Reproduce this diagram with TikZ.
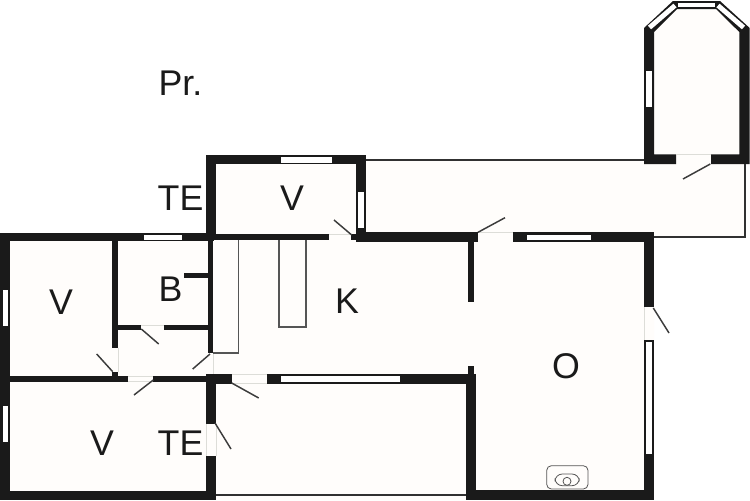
\documentclass[tikz,border=0pt]{standalone}
\usepackage{fontspec}
\setmainfont{Liberation Sans}
\definecolor{wallc}{HTML}{1A1A1A}
\definecolor{floorc}{HTML}{FFFDFB}
\definecolor{thinc}{HTML}{555555}
\definecolor{edgec}{HTML}{DDDDD8}
\tikzset{
  wall/.style={fill=wallc,draw=none},
  pane/.style={fill=white,draw=none},
  gap/.style={fill=floorc,draw=none},
  sill/.style={draw=edgec,line width=0.5pt},
  swing/.style={draw=wallc!85!white,line width=1.1pt},
  thin/.style={draw=wallc!90!white,line width=1.4pt},
  stair/.style={draw=thinc,line width=0.9pt},
  hob/.style={draw=thinc,line width=0.6pt},
  room/.style={font=\fontsize{26.8pt}{26.8pt}\selectfont,text=wallc,inner sep=0pt}
}
\begin{document}
\begin{tikzpicture}[x=0.75pt,y=-0.75pt]
\useasboundingbox (0,0) rectangle (750,500);
\fill[white] (0,0) rectangle (750,500);
% floor
\fill[floorc] (0,233) -- (206,233) -- (206,155) -- (366,155) -- (366,160) -- (644,160) -- (644,28) -- (673,1) -- (720,1) -- (749,28) -- (749,164) -- (745,164) -- (745,237) -- (654,237) -- (654,500) -- (0,500) -- cycle;
% outer left block
\fill[wall] (0,232.7) rectangle (214,240.7);
\fill[wall] (0,232.7) rectangle (10,500);
\fill[wall] (0,490.7) rectangle (216,500);
\fill[pane] (144,234.7) rectangle (181.5,239.5);
\fill[pane] (2.8,290) rectangle (8,326);
\fill[pane] (2.8,406) rectangle (8,442);
% inner walls left
\fill[wall] (112,240) rectangle (118,348);
\fill[wall] (118,325) rectangle (141.3,330);
\fill[wall] (164,325) rectangle (208,330);
\fill[wall] (184,272.7) rectangle (208,278);
\fill[wall] (207.7,240) rectangle (213.3,353);
\fill[wall] (112,372) rectangle (118,377);
\fill[wall] (10,375.7) rectangle (128,381.7);
\fill[wall] (153.3,375.7) rectangle (207,381.7);
% centre junction
\fill[wall] (206,374) rectangle (231.7,383.5);
\fill[wall] (206,380) rectangle (216,423.5);
\fill[wall] (206,456) rectangle (216,500);
\fill[wall] (266.7,374) rectangle (476,384);
\fill[pane] (281,376) rectangle (400,381.5);
% V room upper
\fill[wall] (205.7,154.7) rectangle (366,164.3);
\fill[wall] (205.7,154.7) rectangle (215.7,240);
\fill[wall] (356,154.7) rectangle (366,241.6);
\fill[pane] (281,156.7) rectangle (332.3,162.7);
\fill[pane] (358.3,192.3) rectangle (364.3,228.3);
\fill[wall] (214,234.3) rectangle (329,240);
\fill[wall] (351,234.3) rectangle (356,240);
\fill[wall] (356,232.3) rectangle (478,241.6);
\fill[wall] (512.7,232.3) rectangle (654,241.6);
\fill[pane] (527,234.5) rectangle (591,239.5);
% right room
\fill[wall] (468,240) rectangle (474,301.7);
\fill[wall] (468,366) rectangle (474,375);
\fill[wall] (466,374) rectangle (476,500);
\fill[wall] (466,490) rectangle (654,500);
\fill[wall] (644,232.3) rectangle (654,307.3);
\fill[wall] (644,340) rectangle (654,500);
\fill[pane] (646,342) rectangle (652,453.5);
% bay
\fill[wall] (644,28) -- (673,1) -- (720,1) -- (749.7,28) -- (749.7,164) -- (711,164) -- (711,154.3) -- (739.3,154.3) -- (739.3,32) -- (716,9) -- (677,9) -- (654,32) -- (654,154.3) -- (676,154.3) -- (676,164) -- (644,164) -- cycle;
\fill[pane] (646,71) rectangle (652,106.7);
\fill[pane] (678,2.7) rectangle (715,7.3);
\draw[white,line width=3.6pt] (649.5,27.5) -- (675,5.5);
\draw[white,line width=3.6pt] (743.5,27.5) -- (718,5.5);
% terrace outline
\draw[thin] (366,159.7) -- (644,159.7);
\draw[thin] (745,164) -- (745,237) -- (654,237);
\draw[thin,line width=1pt] (216,495) -- (466,495);
% gap edges
\draw[sill] (118,348) -- (118,372);
\draw[sill] (141,325) -- (164,325);
\draw[sill] (128,376) -- (153,376) (128,381.7) -- (153,381.7);
\draw[sill] (231.7,374) -- (266.7,374) (231.7,383.5) -- (266.7,383.5);
\draw[sill] (329,234.3) -- (351,234.3);
\draw[sill] (478,232.3) -- (512.7,232.3);
\draw[sill] (676,154.3) -- (711,154.3);
\draw[sill] (644,307.3) -- (644,340);
\draw[sill] (206,423.5) -- (206,456) (216,423.5) -- (216,456);
\draw[sill] (213.5,353) -- (213.5,374);
% stairs and counter
\draw[stair] (213,353) -- (238.3,353) -- (238.3,240);
\draw[stair] (279,240) -- (279,327) -- (306,327) -- (306,240);
% door swings
\draw[swing] (141.3,329) -- (158.7,344);
\draw[swing] (112.7,371.7) -- (96.7,354);
\draw[swing] (153.3,380) -- (134,395);
\draw[swing] (210,354) -- (192.7,369);
\draw[swing] (231.7,383) -- (258.7,398);
\draw[swing] (215,423) -- (231,449);
\draw[swing] (351.7,235) -- (334,220);
\draw[swing] (478,232.3) -- (505,217.7);
\draw[swing] (710.3,164) -- (683,179);
\draw[swing] (653.3,308) -- (669,333);
% stove
\draw[hob,rounded corners=3.5pt] (546.7,465.7) rectangle (588,489);
\draw[hob,rounded corners=5.5pt] (555,474) rectangle (579.3,485.7);
\begin{scope}
\clip (555,474) rectangle (579.3,485.7);
\draw[hob] (567,481.3) circle[radius=4];
\end{scope}
% labels
\node[room] (pr) at (180.5,83) {Pr.};
\node[room] (te1) at (180.5,198) {TE};
\node[room] (v1) at (292,198) {V};
\node[room] (v2) at (61,302) {V};
\node[room] (b) at (170.5,289) {B};
\node[room] (k) at (347,301) {K};
\node[room] (o) at (566,366) {O};
\node[room] (v3) at (102,443) {V};
\node[room] (te2) at (180.5,443) {TE};
\end{tikzpicture}
\end{document}
